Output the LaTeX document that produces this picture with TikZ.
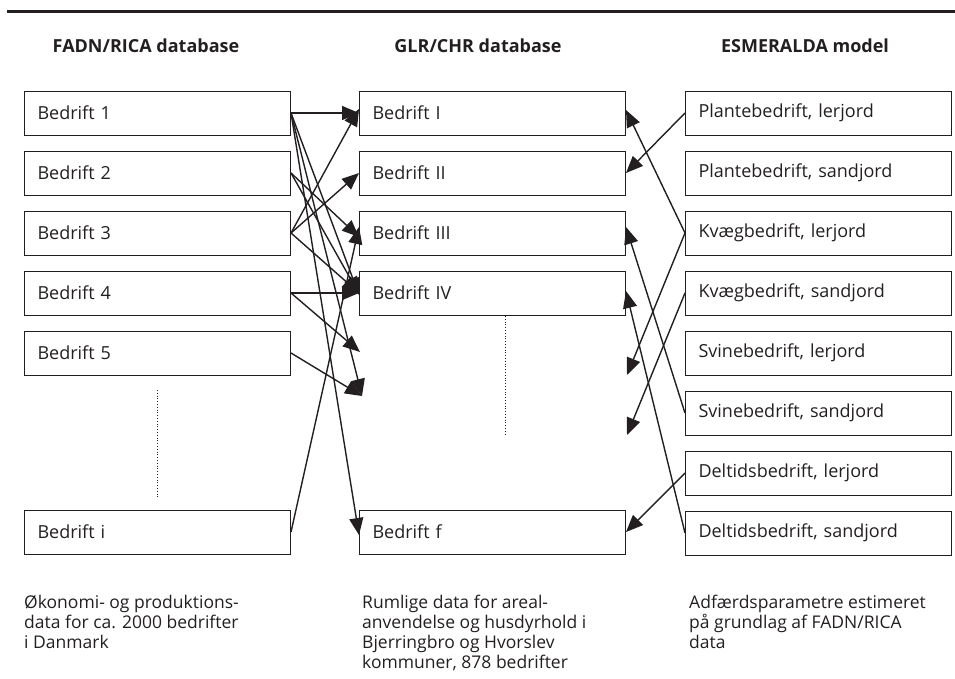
\documentclass[tikz,border=0pt]{standalone}
\usepackage{fontspec}
\setmainfont{Open Sans}
\usetikzlibrary{arrows.meta}
\definecolor{ink}{HTML}{231F20}
\begin{document}
\begin{tikzpicture}[x=1pt,y=-1pt,
  box/.style={draw=ink, line width=1pt, minimum height=44pt, inner xsep=13pt,
    text width=240pt, align=left, anchor=west, text=ink,
    font=\fontsize{18}{20}\selectfont},
  head/.style={font=\fontsize{18}{20}\selectfont\bfseries, text=ink},
  note/.style={anchor=north west, align=left, inner sep=0pt, text=ink,
    font=\fontsize{17.5}{20}\selectfont},
  conn/.style={draw=ink, line width=1.4pt, -{Triangle[length=17pt,width=14pt]}},
  dots/.style={draw=ink, line width=0.8pt, dotted}
]
\useasboundingbox (0,0) rectangle (955,678);
\draw[ink, line width=3pt] (7,11) -- (955,11);

\node[head] (h1) at (146,46) {FADN/RICA database};
\node[head] (h2) at (478,46) {GLR/CHR database};
\node[head] (h3) at (805,46) {ESMERALDA model};

% left column
\node[box] (b1) at (24,113) {Bedrift 1};
\node[box] (b2) at (24,173) {Bedrift 2};
\node[box] (b3) at (24,233) {Bedrift 3};
\node[box] (b4) at (24,293) {Bedrift 4};
\node[box] (b5) at (24,353) {Bedrift 5};
\node[box] (bi) at (24,532) {Bedrift i};

% middle column
\node[box] (m1) at (359,113) {Bedrift I};
\node[box] (m2) at (359,173) {Bedrift II};
\node[box] (m3) at (359,233) {Bedrift III};
\node[box] (m4) at (359,293) {Bedrift IV};
\node[box] (mf) at (359,532) {Bedrift f};

% right column
\node[box] (r1) at (685,113) {Plantebedrift, lerjord};
\node[box] (r2) at (685,173) {Plantebedrift, sandjord};
\node[box] (r3) at (685,233) {Kvægbedrift, lerjord};
\node[box] (r4) at (685,293) {Kvægbedrift, sandjord};
\node[box] (r5) at (685,353) {Svinebedrift, lerjord};
\node[box] (r6) at (685,413) {Svinebedrift, sandjord};
\node[box] (r7) at (685,473) {Deltidsbedrift, lerjord};
\node[box] (r8) at (685,533) {Deltidsbedrift, sandjord};

% dotted continuation lines
\coordinate (d1a) at (157,390);
\coordinate (d1b) at (157,497);
\coordinate (d2a) at (505,316);
\coordinate (d2b) at (505,436);
\draw[dots] (d1a) -- (d1b);
\draw[dots] (d2a) -- (d2b);

% free arrow ends
\coordinate (c1) at (360,352);
\coordinate (c2) at (362,396);
\coordinate (c3) at (627,375);
\coordinate (c4) at (627,435);

% left -> middle
\draw[conn] (b1.east) -- (m1.west);
\draw[conn] (b1.east) -- ([yshift=-2pt]m4.west);
\draw[conn] (b1.east) -- (c2);
\draw[conn] (b1.east) -- ([yshift=-3pt]mf.west);
\draw[conn] (b2.east) -- ([yshift=-4pt]m3.west);
\draw[conn] (b2.east) -- ([yshift=-1pt]m4.west);
\draw[conn] (b3.east) -- ([yshift=4pt]m1.west);
\draw[conn] (b3.east) -- (m2.west);
\draw[conn] (b3.east) -- (m4.west);
\draw[conn] (b4.east) -- (m4.west);
\draw[conn] (b4.east) -- (c1);
\draw[conn] (b5.east) -- (c2);
\draw[conn] (bi.east) -- ([yshift=6pt]m3.west);

% right -> middle
\draw[conn] (r1.west) -- (m2.east);
\draw[conn] (r3.west) -- ([yshift=3pt]m1.east);
\draw[conn] (r3.west) -- (c3);
\draw[conn] (r4.west) -- (c4);
\draw[conn] (r6.west) -- ([yshift=6pt]m3.east);
\draw[conn] (r7.west) -- (mf.east);
\draw[conn] (r8.west) -- ([yshift=2pt]m4.east);

% notes
\node[note] (n1) at (24,595) {Økonomi- og produktions-\\data for ca. 2000 bedrifter\\i Danmark};
\node[note] (n2) at (362,595) {Rumlige data for areal-\\anvendelse og husdyrhold i\\Bjerringbro og Hvorslev\\kommuner, 878 bedrifter};
\node[note] (n3) at (689,595) {Adfærdsparametre estimeret\\på grundlag af FADN/RICA\\data};
\end{tikzpicture}
\end{document}
